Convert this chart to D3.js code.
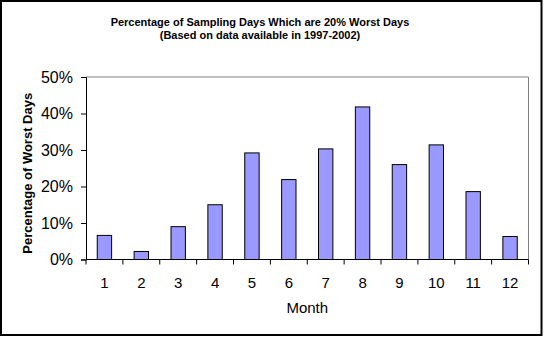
<!DOCTYPE html>
<html><head><meta charset="utf-8">
<script src="https://cdn.jsdelivr.net/npm/d3@7"></script>
<style>body{margin:0;background:#fff}svg{display:block}</style>
</head><body>
<script>
const months = ["1","2","3","4","5","6","7","8","9","10","11","12"];
const values = [0.066, 0.022, 0.090, 0.150, 0.292, 0.219, 0.303, 0.418, 0.260, 0.314, 0.186, 0.063];
const yTicks = [0, 0.1, 0.2, 0.3, 0.4, 0.5];
const titleLines = ["Percentage of Sampling Days Which are 20% Worst Days", "(Based on data available in 1997-2002)"];

const W = 544, H = 338;
const svg = d3.select("body").append("svg").attr("width", W).attr("height", H);
svg.append("rect").attr("x", 0).attr("y", 0).attr("width", W).attr("height", H).attr("fill", "#fff");
svg.append("rect").attr("x", 1).attr("y", 1).attr("width", 540.5).attr("height", 334).attr("fill", "none").attr("stroke", "#000").attr("stroke-width", 2);

const L = 86, R = 528.5, T = 77, B = 259.5;
const x = d3.scaleBand().domain(months).range([L, R]).paddingInner(0.61).paddingOuter(0.305);
const xb = d3.scaleBand().domain(months).range([L, R]);
const y = d3.scaleLinear().domain([0, 0.5]).range([B, T]);

// plot border (top/right gray)
svg.append("path").attr("d", `M${L},${T}H${R}V${B}`).attr("fill", "none").attr("stroke", "#808080").attr("stroke-width", 1);

svg.selectAll("rect.bar").data(values).join("rect").attr("class", "bar")
  .attr("x", (d, i) => x(months[i]))
  .attr("width", x.bandwidth())
  .attr("y", d => y(d))
  .attr("height", d => B - y(d))
  .attr("fill", "#9999FF").attr("stroke", "#000").attr("stroke-width", 1);

// y axis
const yAxis = d3.axisLeft(y).tickValues(yTicks).tickFormat(d3.format(".0%")).tickSize(5).tickPadding(8);
const gy = svg.append("g").attr("transform", `translate(${L},0)`).call(yAxis);
gy.select(".domain").attr("stroke", "#000");
gy.selectAll("text").attr("font-family", "Arial, 'Liberation Sans', sans-serif").attr("font-size", 16).attr("fill", "#000");

// x axis: ticks at band boundaries
const gx = svg.append("g").attr("transform", `translate(0,${B})`);
gx.append("line").attr("x1", L).attr("x2", R).attr("stroke", "#000");
const bounds = months.map(m => xb(m)).concat([R]);
gx.selectAll("line.tk").data(bounds).join("line").attr("class", "tk")
  .attr("x1", d => d).attr("x2", d => d).attr("y1", 0).attr("y2", 5).attr("stroke", "#000");
gx.selectAll("text").data(months).join("text")
  .attr("x", d => xb(d) + xb.bandwidth() / 2).attr("y", 28)
  .attr("text-anchor", "middle")
  .attr("font-family", "Arial, 'Liberation Sans', sans-serif").attr("font-size", 15).text(d => d);

// axis titles
svg.append("text").attr("x", (L + R) / 2).attr("y", 313).attr("text-anchor", "middle")
  .attr("font-family", "Arial, 'Liberation Sans', sans-serif").attr("font-size", 15).text("Month");
svg.append("text").attr("transform", `translate(32,${(T + B) / 2 + 5}) rotate(-90)`).attr("text-anchor", "middle")
  .attr("font-family", "Arial, 'Liberation Sans', sans-serif").attr("font-size", 13).attr("font-weight", "bold").text("Percentage of Worst Days");

// title
svg.selectAll("text.title").data(titleLines).join("text").attr("class", "title")
  .attr("x", 260).attr("y", (d, i) => 26 + i * 13).attr("text-anchor", "middle")
  .attr("font-family", "Arial, 'Liberation Sans', sans-serif").attr("font-size", 11).attr("font-weight", "bold").text(d => d);
</script>
</body></html>
